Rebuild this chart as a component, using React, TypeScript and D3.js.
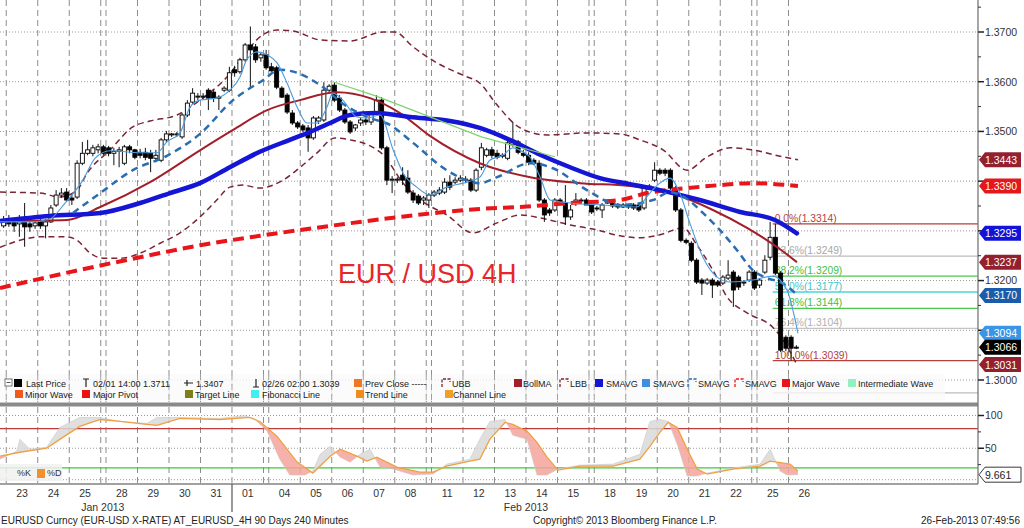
import React from "react";
import * as d3 from "d3";

type P = [number, number];
const FONT = "'Liberation Sans', Arial, sans-serif";

// ---------- DATA ----------
// 4H candles [open, high, low, close], starting at bar index firstBar (bar 0 = Mon 21 Jan 00:00)
const firstBar = 11;
const ohlc: [number, number, number, number][] = [
  [1.3310, 1.3330, 1.3306, 1.3322], [1.3324, 1.3332, 1.3308, 1.3314], [1.3318, 1.3326, 1.3298, 1.3310],
  [1.3314, 1.3332, 1.3288, 1.3318], [1.3318, 1.3356, 1.3268, 1.3308], [1.3314, 1.3322, 1.3298, 1.3308],
  [1.3310, 1.3322, 1.3304, 1.3316], [1.3318, 1.3324, 1.3304, 1.3310], [1.3310, 1.3324, 1.3285, 1.3318],
  [1.3318, 1.3352, 1.3316, 1.3346], [1.3352, 1.3382, 1.3348, 1.3372], [1.3372, 1.3386, 1.3366, 1.3376],
  [1.3378, 1.3386, 1.3358, 1.3362], [1.3366, 1.3374, 1.3352, 1.3362], [1.3368, 1.3442, 1.3364, 1.3436],
  [1.3436, 1.3479, 1.3432, 1.3456], [1.3456, 1.3483, 1.3452, 1.3463], [1.3456, 1.3473, 1.3450, 1.3467],
  [1.3463, 1.3475, 1.3456, 1.3469], [1.3469, 1.3473, 1.3452, 1.3456], [1.3467, 1.3471, 1.3450, 1.3456],
  [1.3456, 1.3467, 1.3432, 1.3460], [1.3460, 1.3469, 1.3428, 1.3463], [1.3436, 1.3473, 1.3432, 1.3469],
  [1.3469, 1.3473, 1.3456, 1.3463], [1.3463, 1.3465, 1.3444, 1.3448], [1.3458, 1.3465, 1.3446, 1.3452],
  [1.3458, 1.3467, 1.3442, 1.3448], [1.3456, 1.3463, 1.3418, 1.3446], [1.3446, 1.3463, 1.3438, 1.3452],
  [1.3442, 1.3487, 1.3438, 1.3483], [1.3483, 1.3501, 1.3479, 1.3495], [1.3493, 1.3497, 1.3489, 1.3495],
  [1.3493, 1.3499, 1.3489, 1.3495], [1.3489, 1.3537, 1.3485, 1.3533], [1.3533, 1.3563, 1.3529, 1.3557],
  [1.3559, 1.3587, 1.3555, 1.3577], [1.3569, 1.3577, 1.3563, 1.3571], [1.3569, 1.3577, 1.3565, 1.3571],
  [1.3583, 1.3587, 1.3543, 1.3567], [1.3579, 1.3583, 1.3559, 1.3567], [1.3569, 1.3573, 1.3543, 1.3567],
  [1.3583, 1.3591, 1.3579, 1.3587], [1.3583, 1.3630, 1.3579, 1.3618], [1.3624, 1.3632, 1.3610, 1.3618],
  [1.3620, 1.3648, 1.3616, 1.3644], [1.3644, 1.3678, 1.3640, 1.3674], [1.3674, 1.3711, 1.3587, 1.3664],
  [1.3670, 1.3676, 1.3638, 1.3644], [1.3648, 1.3660, 1.3640, 1.3654], [1.3654, 1.3664, 1.3624, 1.3628],
  [1.3630, 1.3638, 1.3620, 1.3622], [1.3628, 1.3632, 1.3585, 1.3589], [1.3587, 1.3591, 1.3567, 1.3569],
  [1.3573, 1.3577, 1.3535, 1.3539], [1.3537, 1.3543, 1.3513, 1.3517], [1.3517, 1.3521, 1.3505, 1.3509],
  [1.3511, 1.3515, 1.3499, 1.3503], [1.3507, 1.3513, 1.3459, 1.3487], [1.3487, 1.3531, 1.3483, 1.3527],
  [1.3521, 1.3531, 1.3515, 1.3527], [1.3523, 1.3599, 1.3519, 1.3583], [1.3583, 1.3595, 1.3577, 1.3591],
  [1.3593, 1.3599, 1.3559, 1.3563], [1.3567, 1.3573, 1.3539, 1.3543], [1.3543, 1.3547, 1.3515, 1.3519],
  [1.3519, 1.3523, 1.3495, 1.3499], [1.3507, 1.3515, 1.3501, 1.3513], [1.3517, 1.3527, 1.3511, 1.3523],
  [1.3523, 1.3529, 1.3513, 1.3519], [1.3519, 1.3539, 1.3513, 1.3535], [1.3539, 1.3573, 1.3535, 1.3563],
  [1.3563, 1.3569, 1.3463, 1.3467], [1.3467, 1.3471, 1.3392, 1.3402], [1.3402, 1.3410, 1.3376, 1.3404],
  [1.3402, 1.3408, 1.3396, 1.3404], [1.3412, 1.3428, 1.3392, 1.3402], [1.3406, 1.3422, 1.3374, 1.3378],
  [1.3376, 1.3382, 1.3356, 1.3362], [1.3370, 1.3374, 1.3352, 1.3356], [1.3362, 1.3370, 1.3352, 1.3366],
  [1.3362, 1.3376, 1.3346, 1.3372], [1.3372, 1.3382, 1.3368, 1.3378], [1.3376, 1.3388, 1.3372, 1.3382],
  [1.3378, 1.3406, 1.3374, 1.3398], [1.3398, 1.3412, 1.3382, 1.3388], [1.3398, 1.3408, 1.3394, 1.3402],
  [1.3402, 1.3412, 1.3398, 1.3406], [1.3404, 1.3410, 1.3396, 1.3402], [1.3402, 1.3406, 1.3378, 1.3382],
  [1.3382, 1.3426, 1.3378, 1.3422], [1.3428, 1.3477, 1.3422, 1.3467], [1.3452, 1.3467, 1.3448, 1.3463],
  [1.3463, 1.3469, 1.3446, 1.3452], [1.3456, 1.3463, 1.3444, 1.3448], [1.3450, 1.3456, 1.3446, 1.3452],
  [1.3446, 1.3481, 1.3442, 1.3477], [1.3473, 1.3519, 1.3469, 1.3479], [1.3479, 1.3483, 1.3454, 1.3458],
  [1.3456, 1.3463, 1.3448, 1.3452], [1.3452, 1.3458, 1.3432, 1.3438], [1.3442, 1.3446, 1.3432, 1.3436],
  [1.3436, 1.3442, 1.3358, 1.3362], [1.3362, 1.3366, 1.3318, 1.3332], [1.3342, 1.3346, 1.3330, 1.3336],
  [1.3342, 1.3366, 1.3338, 1.3362], [1.3362, 1.3366, 1.3354, 1.3358], [1.3356, 1.3392, 1.3312, 1.3328],
  [1.3328, 1.3352, 1.3322, 1.3342], [1.3356, 1.3376, 1.3350, 1.3362], [1.3362, 1.3366, 1.3356, 1.3360],
  [1.3362, 1.3366, 1.3352, 1.3352], [1.3352, 1.3356, 1.3334, 1.3338], [1.3346, 1.3350, 1.3340, 1.3344],
  [1.3342, 1.3356, 1.3326, 1.3352], [1.3358, 1.3362, 1.3354, 1.3356], [1.3356, 1.3360, 1.3346, 1.3350],
  [1.3352, 1.3356, 1.3344, 1.3348], [1.3348, 1.3356, 1.3346, 1.3352], [1.3352, 1.3354, 1.3344, 1.3348],
  [1.3352, 1.3356, 1.3342, 1.3346], [1.3352, 1.3356, 1.3338, 1.3342], [1.3346, 1.3390, 1.3342, 1.3386],
  [1.3384, 1.3394, 1.3382, 1.3390], [1.3402, 1.3438, 1.3398, 1.3422], [1.3422, 1.3426, 1.3412, 1.3416],
  [1.3422, 1.3426, 1.3410, 1.3416], [1.3422, 1.3426, 1.3382, 1.3386], [1.3386, 1.3390, 1.3338, 1.3342],
  [1.3342, 1.3346, 1.3277, 1.3281], [1.3281, 1.3285, 1.3273, 1.3277], [1.3275, 1.3279, 1.3237, 1.3241],
  [1.3241, 1.3245, 1.3193, 1.3197], [1.3201, 1.3205, 1.3171, 1.3195], [1.3195, 1.3205, 1.3191, 1.3201],
  [1.3201, 1.3205, 1.3165, 1.3191], [1.3197, 1.3201, 1.3187, 1.3191], [1.3195, 1.3211, 1.3191, 1.3207],
  [1.3205, 1.3241, 1.3201, 1.3211], [1.3217, 1.3221, 1.3147, 1.3181], [1.3207, 1.3211, 1.3181, 1.3187],
  [1.3195, 1.3201, 1.3189, 1.3197], [1.3201, 1.3221, 1.3197, 1.3217], [1.3217, 1.3221, 1.3181, 1.3185],
  [1.3191, 1.3205, 1.3185, 1.3201], [1.3217, 1.3251, 1.3213, 1.3241], [1.3247, 1.3318, 1.3241, 1.3287],
  [1.3287, 1.3314, 1.3211, 1.3215], [1.3215, 1.3219, 1.3056, 1.3060], [1.3086, 1.3090, 1.3058, 1.3064],
  [1.3086, 1.3090, 1.3039, 1.3064], [1.3064, 1.3070, 1.3062, 1.3066],
];

// indicator lines: [bar index, value]
const smaThick: P[] = [[10.3,1.3320],[19.8,1.3330],[29.4,1.3336],[37,1.3356],[42.7,1.3376],[48.4,1.3396],[54.1,1.3428],[59.8,1.3459],[65.5,1.3483],[69.4,1.3499],[73.2,1.3517],[77,1.3533],[81.7,1.3537],[88.4,1.3529],[96,1.3521],[101.7,1.3507],[107.4,1.3483],[113.2,1.3453],[118.9,1.3428],[124.6,1.3406],[130.3,1.3394],[136,1.3382],[143.6,1.3362],[151.3,1.3338],[157.9,1.3322],[162.1,1.3295]];
const sma200: P[] = [[10.3,1.3185],[23.6,1.3217],[37,1.3247],[48.4,1.3271],[59.8,1.3290],[73.2,1.3310],[86.5,1.3328],[101.7,1.3344],[109.4,1.3348],[118.9,1.3356],[128.4,1.3362],[133.5,1.3376],[141.2,1.3386],[147.4,1.3392],[153.7,1.3396],[162.3,1.3390]];
const bollMA: P[] = [[10.3,1.3320],[23.1,1.3322],[29.4,1.3348],[38.9,1.3398],[48.4,1.3462],[54.7,1.3503],[61.2,1.3543],[67.4,1.3563],[74.5,1.3579],[80.8,1.3567],[86.5,1.3537],[92.2,1.3491],[101.7,1.3436],[111.3,1.3408],[120.8,1.3396],[130.3,1.3390],[139.8,1.3370],[146.1,1.3342],[152.6,1.3306],[158.9,1.3263],[162.1,1.3237]];
const smaDashed: P[] = [[24.2,1.3336],[29.4,1.3376],[35.6,1.3422],[42.1,1.3451],[48.4,1.3495],[54.7,1.3563],[60.4,1.3603],[63.6,1.3624],[66.9,1.3618],[71.3,1.3593],[76.0,1.3553],[80.8,1.3527],[84.6,1.3513],[89.0,1.3477],[95.4,1.3422],[101.7,1.3396],[105.0,1.3408],[111.3,1.3436],[115.6,1.3426],[122.1,1.3382],[128.4,1.3352],[134.7,1.3362],[137.9,1.3378],[141.2,1.3364],[144.2,1.3336],[147.4,1.3302],[150.7,1.3261],[153.7,1.3221],[156.4,1.3205],[158.9,1.3197],[162.3,1.3170]];
const smaThin: P[] = [[10.3,1.3318],[16.0,1.3318],[19.8,1.3324],[22.7,1.3356],[26.1,1.3402],[28.4,1.3446],[31.3,1.3461],[37.0,1.3457],[40.2,1.3457],[42.1,1.3479],[44.6,1.3497],[46.5,1.3549],[48.4,1.3563],[51.6,1.3567],[54.1,1.3583],[56.0,1.3609],[57.3,1.3644],[59.3,1.3660],[61.2,1.3654],[63.1,1.3638],[65.0,1.3597],[66.9,1.3549],[68.8,1.3517],[70.7,1.3517],[72.6,1.3549],[73.7,1.3577],[75.6,1.3563],[78.3,1.3529],[80.2,1.3527],[82.7,1.3533],[85.2,1.3463],[87.1,1.3416],[89.7,1.3388],[92.2,1.3372],[95.4,1.3388],[98.5,1.3396],[101.7,1.3408],[103.6,1.3442],[106.1,1.3452],[108.0,1.3467],[109.9,1.3459],[111.3,1.3448],[113.2,1.3408],[115.1,1.3362],[118.9,1.3356],[125.2,1.3352],[131.6,1.3348],[134.1,1.3376],[136.0,1.3396],[137.9,1.3406],[139.8,1.3376],[141.7,1.3316],[144.2,1.3247],[146.9,1.3207],[149.4,1.3197],[153.7,1.3201],[157.5,1.3209],[160.2,1.3181],[162.3,1.3094]];
const bbUpper: P[] = [[10.3,1.3378],[17.9,1.3376],[21.7,1.3368],[25.0,1.3382],[26.9,1.3416],[31.3,1.3463],[35.6,1.3509],[38.9,1.3521],[44.0,1.3533],[48.4,1.3563],[53.5,1.3609],[56.6,1.3650],[59.8,1.3690],[63.1,1.3704],[66.1,1.3702],[71.3,1.3684],[77.0,1.3682],[83.3,1.3700],[85.5,1.3700],[89.0,1.3670],[93.5,1.3638],[98.5,1.3613],[101.7,1.3597],[105.0,1.3553],[109.4,1.3507],[114.5,1.3493],[122.1,1.3497],[128.4,1.3495],[132.2,1.3483],[136.6,1.3463],[141.2,1.3422],[144.9,1.3448],[149.4,1.3467],[153.7,1.3463],[158.9,1.3450],[162.3,1.3443]];
const bbLower: P[] = [[10.3,1.3267],[14.1,1.3281],[17.9,1.3288],[23.1,1.3288],[25.0,1.3281],[27.5,1.3255],[29.9,1.3245],[33.2,1.3245],[37.0,1.3255],[40.8,1.3275],[44.6,1.3296],[48.4,1.3328],[51.6,1.3362],[54.1,1.3388],[56.6,1.3392],[59.8,1.3386],[64.2,1.3402],[67.5,1.3428],[70.7,1.3457],[74.1,1.3487],[77.0,1.3483],[80.8,1.3471],[83.3,1.3453],[87.1,1.3396],[89.7,1.3368],[92.2,1.3350],[95.4,1.3332],[100.4,1.3296],[105.0,1.3316],[109.4,1.3332],[113.2,1.3326],[118.9,1.3312],[124.0,1.3302],[128.4,1.3290],[132.2,1.3286],[136.0,1.3292],[140.4,1.3306],[143.1,1.3271],[146.1,1.3221],[148.8,1.3167],[152.6,1.3135],[157.5,1.3106],[159.5,1.3080],[162.1,1.3031]];
const waveLine: P[] = [[74,1.3599],[82,1.3571],[102,1.3489],[116,1.3449]];

// Stochastics
const stochD: P[] = [[10.3,37.9],[14.1,43.9],[19.2,50.0],[21.7,63.6],[25.5,83.3],[29.4,93.9],[33.2,90.9],[38.3,86.4],[40.2,84.8],[44.6,95.5],[52.2,93.9],[57.9,97.0],[59.8,90.9],[63.1,68.2],[66.9,28.8],[69.9,12.1],[73.2,37.9],[75.1,48.5],[78.3,37.9],[80.2,30.3],[82.1,36.4],[85.9,21.2],[90.3,13.6],[92.8,13.6],[95.4,22.7],[99.8,30.3],[101.7,33.3],[103.6,63.6],[106.5,89.4],[108.0,86.4],[110.7,75.8],[112.6,59.1],[114.5,36.4],[116.6,16.7],[120.8,22.7],[127.1,22.7],[132.2,33.3],[134.1,53.0],[136.0,74.2],[137.6,89.4],[139.3,81.8],[141.2,48.5],[143.1,18.2],[145.0,10.6],[149.9,18.2],[155.1,22.7],[157.0,30.3],[160.8,25.8],[162.3,15.2]];
const stochK: P[] = [[10.3,33.3],[13.5,45.5],[14.1,63.6],[16.0,48.5],[19.2,51.5],[21.7,81.8],[25.5,97.0],[29.4,97.0],[33.2,90.9],[38.3,87.9],[40.2,97.0],[44.6,97.0],[52.2,95.5],[56.9,100],[58.9,93.9],[61.2,75.8],[63.6,33.3],[65.5,9.1],[68.4,9.1],[69.9,15.2],[71.3,40.9],[73.2,53.0],[75.1,36.4],[77.0,28.8],[78.9,40.9],[80.8,48.5],[82.7,21.2],[85.2,18.2],[89.0,9.1],[92.8,10.6],[95.4,25.8],[99.8,33.3],[101.7,63.6],[103.6,90.9],[106.5,93.9],[108.0,69.7],[110.7,63.6],[112.6,9.1],[114.5,9.1],[116.6,18.2],[120.8,24.2],[127.1,25.8],[132.2,40.9],[134.1,90.9],[136.0,93.9],[137.6,90.9],[139.3,56.1],[141.2,7.6],[143.1,7.6],[145.0,12.1],[149.9,19.7],[155.1,25.8],[157.0,48.5],[158.9,15.2],[160.2,9.1],[162.3,9.661]];

// Fibonacci retracement
const fibStartBar = 158;
const fibPcts = ["0.0%", "23.6%", "38.2%", "50.0%", "61.8%", "76.4%", "100.0%"];
const fibValues = [1.3314, 1.3249, 1.3209, 1.3177, 1.3144, 1.3104, 1.3039];
const fibExtValue = 1.2974; // 161.8% line, label hidden behind the legend

// axes
const priceTicks = [1.30, 1.31, 1.32, 1.33, 1.34, 1.35, 1.36, 1.37];
const priceMinor = [1.305, 1.315, 1.325, 1.335, 1.345, 1.355, 1.365, 1.375];
const dayLabels = ["23","24","25","28","29","30","31","01","04","05","06","07","08","11","12","13","14","15","18","19","20","21","22","25","26"];
const dayStart = [12,18,24,31,37,43,49,55,62,68,74,80,86,93,99,105,111,117,124,130,136,142,148,155,161];
const weekEndBars = [30, 61, 92, 123, 154];
const monthStartBar = 55;
const monthLabels = ["Jan 2013", "Feb 2013"];
const monthLabelBars = [30.4, 111];

// right axis value tags
const tagValues = [1.3443, 1.3390, 1.3295, 1.3237, 1.3170, 1.3094, 1.3066, 1.3031];
const stochLast = 9.661;

// ---------- STYLE ----------
const tagColors = ["#94202f", "#e3171c", "#1212d8", "#94202f", "#1a5cab", "#3b95e6", "#000000", "#94202f"];
const fibLineColors = ["#b5413c", "#bdbdbd", "#4cc94c", "#4dd5d5", "#4cc94c", "#c4c4c4", "#b5413c"];
const fibTextColors = ["#b5413c", "#a8a8a8", "#3fbf3f", "#3cc8c8", "#3fbf3f", "#b0b0b0", "#b5413c"];

const AXIS_X = 978;
const MAIN_BOTTOM = 402;
const LOW_TOP = 407;
const LOW_BOTTOM = 484;

export default function App() {
  const x = d3.scaleLinear().domain([10.81, 10.81 + AXIS_X / 5.25]).range([0, AXIS_X]);
  const xc = (i: number) => x(i + 0.5);
  const y = d3.scaleLinear().domain([1.3, 1.37]).range([380, 32]);
  const ys = d3.scaleLinear().domain([0, 100]).range([481, 415.5]);

  const smooth = (pts: P[]) =>
    d3.line<P>().x((d) => xc(d[0])).y((d) => y(d[1])).curve(d3.curveMonotoneX)(pts) || "";
  const straight = (pts: P[]) => d3.line<P>().x((d) => xc(d[0])).y((d) => y(d[1]))(pts) || "";
  const lin = (pts: P[]) => d3.line<P>().x((d) => xc(d[0])).y((d) => ys(d[1]))(pts) || "";

  const gridBars = [...dayStart, ...weekEndBars];

  const dPath = lin(stochD);
  const dFirst = stochD[0], dLast = stochD[stochD.length - 1];
  const clipAbove = `${dPath}L${xc(dLast[0])},${LOW_TOP}L${xc(dFirst[0])},${LOW_TOP}Z`;
  const clipBelow = `${dPath}L${xc(dLast[0])},${LOW_BOTTOM}L${xc(dFirst[0])},${LOW_BOTTOM}Z`;
  const kdPoly = `${lin(stochK)}L${lin([...stochD].reverse()).slice(1)}Z`;

  const tagShape = (cy: number) =>
    `M979,${cy}L985,${cy - 7.5}L1021,${cy - 7.5}L1021,${cy + 7.5}L985,${cy + 7.5}Z`;

  // axis labels hidden by value tags (as in the reference)
  const labelVisible = (v: number) => tagValues.every((t) => Math.abs(y(t) - y(v)) > 9);

  const legendRow1: { t: string; x: number; tx: number; kind: string; color: string }[] = [
    { t: "Last Price", x: 14, tx: 26, kind: "sq", color: "#000" },
    { t: "02/01 14:00 1.3711", x: 83, tx: 93, kind: "T", color: "#222" },
    { t: "1.3407", x: 184, tx: 196, kind: "plus", color: "#222" },
    { t: "02/26 02:00 1.3039", x: 253, tx: 262, kind: "bot", color: "#222" },
    { t: "Prev Close -----", x: 354, tx: 365, kind: "sq", color: "#f07820" },
    { t: "UBB", x: 442, tx: 452, kind: "corner", color: "#7b2435" },
    { t: "BollMA", x: 514, tx: 523, kind: "sq", color: "#a21f2a" },
    { t: "LBB", x: 560, tx: 570, kind: "corner", color: "#7b2435" },
    { t: "SMAVG", x: 595, tx: 606, kind: "sq", color: "#1515d6" },
    { t: "SMAVG", x: 642, tx: 653, kind: "sq", color: "#3d8fe0" },
    { t: "SMAVG", x: 688, tx: 698, kind: "corner", color: "#2a6db0" },
    { t: "SMAVG", x: 735, tx: 745, kind: "corner", color: "#e8161b" },
    { t: "Major Wave", x: 782, tx: 792, kind: "sq", color: "#e8161b" },
    { t: "Intermediate Wave", x: 848, tx: 858, kind: "sq", color: "#90f0c4" },
  ];
  const legendRow2 = [
    { t: "Minor Wave", x: 15, tx: 25, color: "#f05a1e" },
    { t: "Major Pivot", x: 82, tx: 93, color: "#e81010" },
    { t: "Target Line", x: 185, tx: 195, color: "#7f7f1a" },
    { t: "Fibonacci Line", x: 251, tx: 262, color: "#40f0f0" },
    { t: "Trend Line", x: 356, tx: 365, color: "#f08c1e" },
    { t: "Channel Line", x: 445, tx: 453, color: "#f0a028" },
  ];

  const legendIcon = (it: (typeof legendRow1)[number], cy: number) => {
    const top = cy - 4;
    if (it.kind === "sq") return <rect x={it.x} y={top} width={8} height={8} fill={it.color} />;
    if (it.kind === "T")
      return <path d={`M${it.x},${top}H${it.x + 6}M${it.x + 3},${top}V${top + 8}`} stroke="#222" strokeWidth={1.2} fill="none" />;
    if (it.kind === "bot")
      return <path d={`M${it.x},${top + 8}H${it.x + 6}M${it.x + 3},${top}V${top + 8}`} stroke="#222" strokeWidth={1.2} fill="none" />;
    if (it.kind === "plus")
      return <path d={`M${it.x},${cy}H${it.x + 9}M${it.x + 3},${cy - 3}V${cy + 3}`} stroke="#222" strokeWidth={1.2} fill="none" />;
    return (
      <path d={`M${it.x},${top + 8}V${top}H${it.x + 8}V${top + 3}`} stroke={it.color} strokeWidth={1.3} strokeDasharray="3,1.5" fill="none" />
    );
  };

  return (
    <svg width={1024} height={528} style={{ position: "absolute", left: 0, top: 0, background: "#fff" }} fontFamily={FONT}>
      <defs>
        <clipPath id="mainClip"><rect x={0} y={0} width={AXIS_X} height={MAIN_BOTTOM} /></clipPath>
        <clipPath id="lowClip"><rect x={0} y={LOW_TOP} width={AXIS_X} height={LOW_BOTTOM - LOW_TOP} /></clipPath>
        <clipPath id="aboveD"><path d={clipAbove} /></clipPath>
        <clipPath id="belowD"><path d={clipBelow} /></clipPath>
      </defs>
      <rect x={0} y={0} width={1024} height={528} fill="#fff" />

      {/* horizontal grid main */}
      {priceTicks.map((v) => (
        <line key={"hg" + v} x1={0} x2={AXIS_X} y1={y(v)} y2={y(v)} stroke="#9a9a9a" strokeDasharray="1,2" />
      ))}
      {/* vertical grid */}
      {gridBars.map((b) => (
        <g key={"vg" + b}>
          <line x1={x(b)} x2={x(b)} y1={0} y2={MAIN_BOTTOM} stroke="#8c8c8c" strokeDasharray="6,4" />
          <line x1={x(b)} x2={x(b)} y1={LOW_TOP} y2={LOW_BOTTOM} stroke="#8c8c8c" strokeDasharray="6,4" />
        </g>
      ))}

      <g clipPath="url(#mainClip)">
        {/* fibonacci */}
        <line x1={x(fibStartBar)} x2={AXIS_X} y1={y(fibExtValue)} y2={y(fibExtValue)} stroke="#bdbdbd" strokeWidth={1.3} />
        {fibValues.map((v, k) => (
          <g key={"fib" + k}>
            <line x1={x(fibStartBar)} x2={AXIS_X} y1={y(v)} y2={y(v)} stroke={fibLineColors[k]} strokeWidth={1.3} />
            <text x={x(fibStartBar) + 2} y={y(v) - 2} fontSize={10.3} fill={fibTextColors[k]}>
              {`${fibPcts[k]}(${v.toFixed(4)})`}
            </text>
          </g>
        ))}

        {/* title */}
        <text x={338} y={283} fontSize={27} fill="#e8262a">EUR / USD 4H</text>

        {/* bollinger bands */}
        <path d={smooth(bbUpper)} fill="none" stroke="#7b2435" strokeWidth={1.5} strokeDasharray="6,4" />
        <path d={smooth(bbLower)} fill="none" stroke="#7b2435" strokeWidth={1.5} strokeDasharray="6,4" />

        {/* candles */}
        {ohlc.map((c, k) => {
          const i = firstBar + k;
          const cx = xc(i);
          const [o, h, l, cl] = c;
          const up = cl >= o;
          const top = y(Math.max(o, cl));
          const hh = Math.max(1, Math.abs(y(o) - y(cl)));
          return (
            <g key={"c" + k}>
              <line x1={cx} x2={cx} y1={y(h)} y2={y(l)} stroke="#111" strokeWidth={1} />
              <rect x={cx - 2} y={top} width={4} height={hh} fill={up ? "#fff" : "#000"} stroke="#000" strokeWidth={0.9} />
            </g>
          );
        })}

        {/* moving averages */}
        <path d={smooth(bollMA)} fill="none" stroke="#a21f2a" strokeWidth={2} />
        <path d={smooth(sma200)} fill="none" stroke="#e8161b" strokeWidth={4} strokeDasharray="11,6" />
        <path d={smooth(smaThick)} fill="none" stroke="#1515d6" strokeWidth={4.5} strokeLinecap="round" />
        <path d={smooth(smaDashed)} fill="none" stroke="#2a6db0" strokeWidth={2.5} strokeDasharray="7,5" />
        <path d={smooth(smaThin)} fill="none" stroke="#4a9be0" strokeWidth={1.1} />
        <path d={straight(waveLine)} fill="none" stroke="#7ed36b" strokeWidth={1.2} />
      </g>

      {/* legend */}
      <rect x={0} y={374} width={945} height={27} fill="#fafafa" opacity={0.78} />
      {gridBars.map((b) => (
        <line key={"vl" + b} x1={x(b)} x2={x(b)} y1={374} y2={MAIN_BOTTOM} stroke="#8c8c8c" strokeDasharray="6,4" opacity={0.8} />
      ))}
      <rect x={5} y={379} width={7} height={7} fill="#fff" stroke="#555" strokeWidth={0.8} />
      <line x1={6.5} x2={10.5} y1={382.5} y2={382.5} stroke="#555" />
      {legendRow1.map((it, k) => (
        <g key={"l1" + k}>
          {legendIcon(it, 383)}
          <text x={it.tx} y={386.5} fontSize={9} fill="#222">{it.t}</text>
        </g>
      ))}
      {legendRow2.map((it, k) => (
        <g key={"l2" + k}>
          <rect x={it.x} y={390} width={8} height={8} fill={it.color} />
          <text x={it.tx} y={397.5} fontSize={9} fill="#222">{it.t}</text>
        </g>
      ))}

      {/* panel separator */}
      <rect x={0} y={402.5} width={AXIS_X} height={4} fill="#8a8a8a" />

      {/* lower panel: stochastics */}
      {[100, 50, 2].map((v) => (
        <line key={"sg" + v} x1={0} x2={AXIS_X} y1={ys(v)} y2={ys(v)} stroke="#9a9a9a" strokeDasharray="1,2" />
      ))}
      <line x1={0} x2={AXIS_X} y1={ys(80)} y2={ys(80)} stroke="#c0393b" strokeWidth={1.2} />
      <line x1={0} x2={AXIS_X} y1={ys(20)} y2={ys(20)} stroke="#3cc83c" strokeWidth={1.2} />
      <g clipPath="url(#lowClip)">
        <g clipPath="url(#aboveD)"><path d={kdPoly} fill="#d9d9d9" opacity={0.85} /></g>
        <g clipPath="url(#belowD)"><path d={kdPoly} fill="#f4a39b" opacity={0.85} /></g>
        <path d={lin(stochK)} fill="none" stroke="#c8c8c8" strokeWidth={0.6} />
        <path d={dPath} fill="none" stroke="#f0a040" strokeWidth={1.3} />
      </g>
      <rect x={0} y={464} width={62} height={17} fill="#f1f1f1" opacity={0.85} />
      <text x={17} y={476} fontSize={9} fill="#333">%K</text>
      <rect x={37} y={469} width={8} height={9} fill="#f09030" />
      <text x={47} y={476} fontSize={9} fill="#333">%D</text>

      {/* bottom axis */}
      <line x1={0} x2={AXIS_X} y1={LOW_BOTTOM} y2={LOW_BOTTOM} stroke="#444" strokeWidth={1.2} />
      <line x1={x(monthStartBar)} x2={x(monthStartBar)} y1={LOW_BOTTOM} y2={512} stroke="#555" strokeWidth={1.2} />
      {dayLabels.map((d, k) => (
        <text key={"dl" + k} x={x(dayStart[k] + 3)} y={497} fontSize={10.5} fill="#333" textAnchor="middle">{d}</text>
      ))}
      {monthLabels.map((m, k) => (
        <text key={"ml" + k} x={x(monthLabelBars[k])} y={511} fontSize={10.5} fill="#333" textAnchor="middle">{m}</text>
      ))}

      {/* right axis */}
      <line x1={AXIS_X} x2={AXIS_X} y1={0} y2={LOW_BOTTOM} stroke="#777" strokeWidth={1.3} />
      {priceMinor.map((v) => (
        <line key={"mn" + v} x1={AXIS_X} x2={AXIS_X + 3} y1={y(v)} y2={y(v)} stroke="#333" />
      ))}
      {priceTicks.map((v) => (
        <g key={"pt" + v}>
          <line x1={AXIS_X} x2={AXIS_X + 6} y1={y(v)} y2={y(v)} stroke="#222" strokeWidth={1.5} />
          {labelVisible(v) && (
            <text x={985} y={y(v) + 3.8} fontSize={10.5} fill="#333">{v.toFixed(4)}</text>
          )}
        </g>
      ))}
      {[100, 50].map((v) => (
        <g key={"st" + v}>
          <line x1={AXIS_X} x2={AXIS_X + 6} y1={ys(v)} y2={ys(v)} stroke="#222" strokeWidth={1.5} />
          <text x={985} y={ys(v) + 3.8} fontSize={10.5} fill="#333">{v}</text>
        </g>
      ))}
      {[75, 25].map((v) => (
        <line key={"sm" + v} x1={AXIS_X} x2={AXIS_X + 3} y1={ys(v)} y2={ys(v)} stroke="#333" />
      ))}
      {tagValues.map((v, k) => (
        <g key={"tag" + k}>
          <path d={tagShape(y(v))} fill={tagColors[k]} />
          <text x={985} y={y(v) + 4} fontSize={10.5} fill="#fff">{v.toFixed(4)}</text>
        </g>
      ))}
      <path d={tagShape(ys(stochLast))} fill="#fff" stroke="#222" strokeWidth={0.9} />
      <text x={985} y={ys(stochLast) + 4} fontSize={10.5} fill="#222">{stochLast.toFixed(3)}</text>

      {/* footer */}
      <text x={1} y={524} fontSize={10} fill="#222">EURUSD Curncy (EUR-USD X-RATE) AT_EURUSD_4H 90 Days 240 Minutes</text>
      <text x={533} y={524} fontSize={10} fill="#222">Copyright© 2013 Bloomberg Finance L.P.</text>
      <text x={1020} y={524} fontSize={10} fill="#222" textAnchor="end">26-Feb-2013 07:49:56</text>
    </svg>
  );
}
